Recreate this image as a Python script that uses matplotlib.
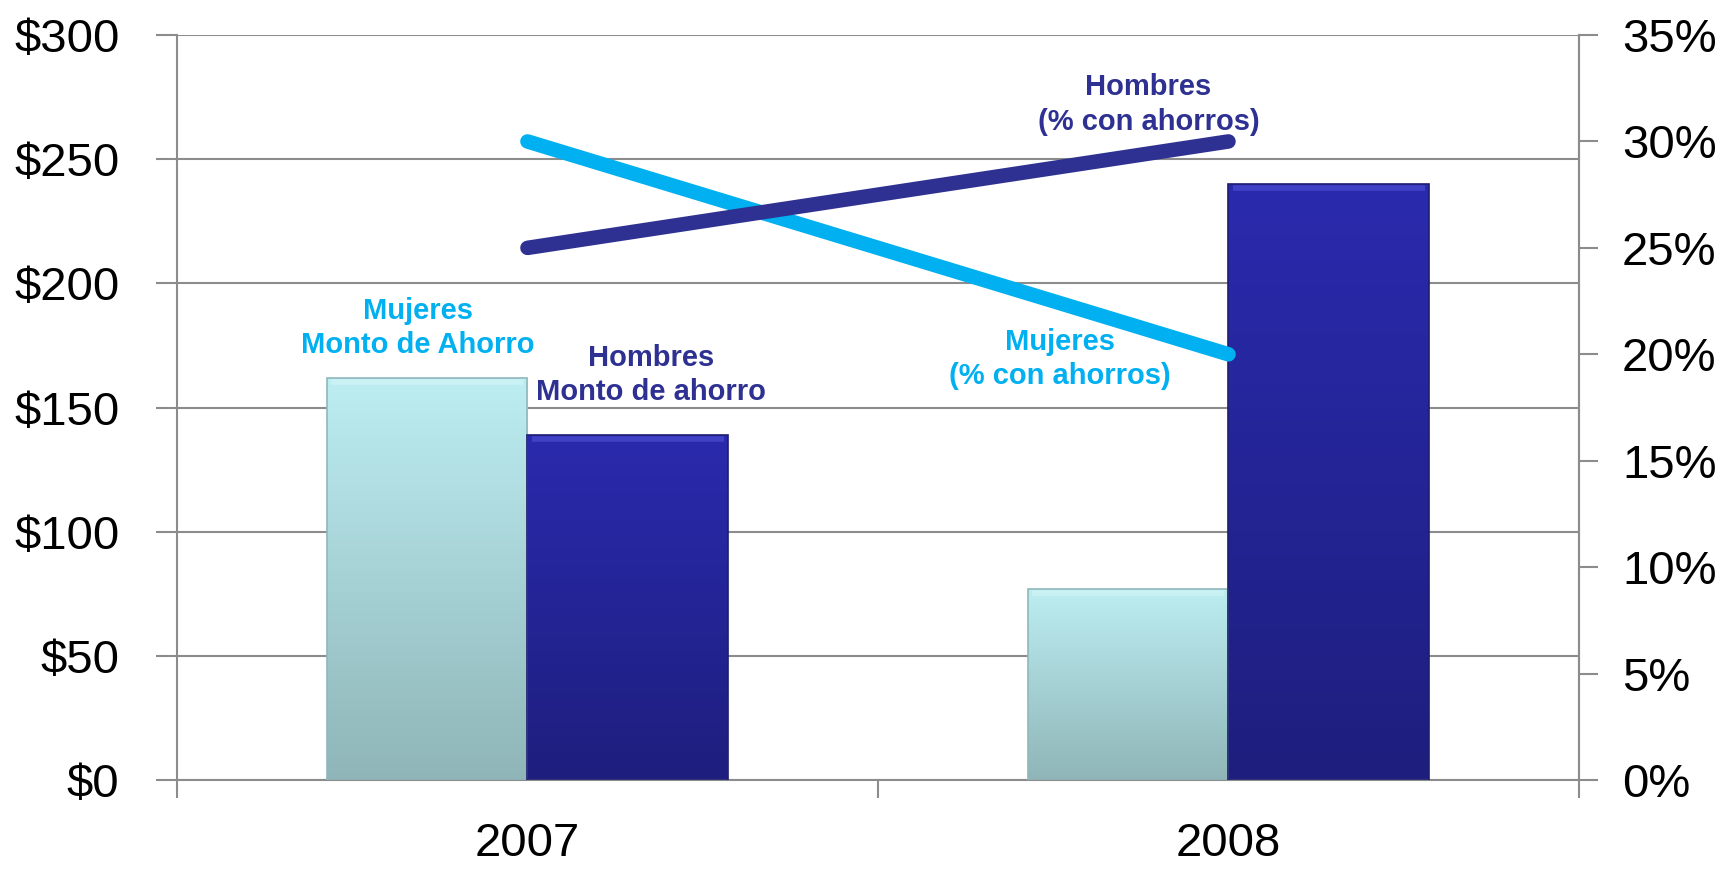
import matplotlib.pyplot as plt
import numpy as np
from matplotlib.colors import to_rgb

plt.rcParams['font.family'] = ['Liberation Sans', 'DejaVu Sans']

years = ['2007', '2008']
monto_mujeres = [162, 77]
monto_hombres = [139, 240]
pct_mujeres = [30, 20]
pct_hombres = [25, 30]

monto_ticks = [0, 50, 100, 150, 200, 250, 300]
pct_ticks = [0, 5, 10, 15, 20, 25, 30, 35]

c_muj = '#00B0F0'
c_hom = '#2E3192'
grid_c = '#8C8C8C'

fig = plt.figure(figsize=(17.2, 8.69), dpi=100)
ax = fig.add_axes([0.1029, 0.1024, 0.8151, 0.8573])

x = np.arange(len(years))
w = 0.286


def gradient_bars(bars, top, bottom, edge, hilite):
    # vertical colour fade inside each bar, with a light rim on top
    t = np.array(to_rgb(top))
    b = np.array(to_rgb(bottom))
    f = np.linspace(0, 1, 256)[:, None]
    img = (t * (1 - f) + b * f)[:, None, :]
    for r in bars:
        r.set_facecolor('none')
        r.set_edgecolor(edge)
        r.set_linewidth(1.2)
        x0, y0 = r.get_x(), r.get_y()
        x1, y1 = x0 + r.get_width(), y0 + r.get_height()
        im = ax.imshow(img, extent=[x0, x1, y0, y1],
                       aspect='auto', zorder=2, interpolation='bilinear', origin='upper')
        im.set_clip_path(r)
        ax.plot([x0 + 0.006, x1 - 0.006], [y1 - 1.6, y1 - 1.6], color=hilite,
                linewidth=4, alpha=0.5, zorder=3, solid_capstyle='butt')


b1 = ax.bar(x - w / 2, monto_mujeres, w, zorder=3)
b2 = ax.bar(x + w / 2, monto_hombres, w, zorder=3)
gradient_bars(b1, '#BDEEF2', '#8FB5B8', '#8FB8BC', '#D8F7F9')
gradient_bars(b2, '#2A2AAE', '#1E1E7E', '#1E1E70', '#5A5AE0')

ax.set_xlim(-0.5, 1.5)
ax.set_ylim(0, 300)
ax.set_yticks(monto_ticks)
ax.set_yticklabels(['$%d' % v for v in monto_ticks])
ax.yaxis.grid(True, color=grid_c, linewidth=1.5, zorder=0)
ax.set_axisbelow(True)

ax.set_xticks([-0.5, 0.5, 1.5])
ax.set_xticklabels([])
ax.set_xticks(x, minor=True)
ax.set_xticklabels(years, minor=True)
ax.tick_params(axis='x', which='major', length=13, width=1.5, color=grid_c)
ax.tick_params(axis='x', which='minor', length=0, pad=30, labelsize=34)
ax.tick_params(axis='y', length=15, width=1.5, color=grid_c, labelsize=34, pad=26.5)

for s in ['left', 'bottom', 'right']:
    ax.spines[s].set_color(grid_c)
    ax.spines[s].set_linewidth(1.5)
ax.spines['top'].set_visible(False)

ax2 = ax.twinx()
ax2.set_ylim(0, 35)
ax2.set_yticks(pct_ticks)
ax2.set_yticklabels(['%d%%' % v for v in pct_ticks])
ax2.tick_params(axis='y', length=14, width=1.5, color=grid_c, labelsize=34, pad=17)
for s in ax2.spines.values():
    s.set_visible(False)
ax2.spines['right'].set_visible(True)
ax2.spines['right'].set_color(grid_c)
ax2.spines['right'].set_linewidth(1.5)

ax2.plot(x, pct_mujeres, color=c_muj, linewidth=10.5, solid_capstyle='round', zorder=4)
ax2.plot(x, pct_hombres, color=c_hom, linewidth=10.5, solid_capstyle='round', zorder=4)

lab = dict(ha='center', va='center', fontsize=21, fontweight='bold', linespacing=1.28,
           transform=ax.transData)
ax2.text(-0.156, 182, 'Mujeres\nMonto de Ahorro', color=c_muj, **lab)
ax2.text(0.176, 163, 'Hombres\nMonto de ahorro', color=c_hom, **lab)
ax2.text(0.886, 272, 'Hombres\n(% con ahorros)', color=c_hom, **lab)
ax2.text(0.759, 169.5, 'Mujeres\n(% con ahorros)', color=c_muj, **lab)

fig.savefig('out.png', dpi=100)
